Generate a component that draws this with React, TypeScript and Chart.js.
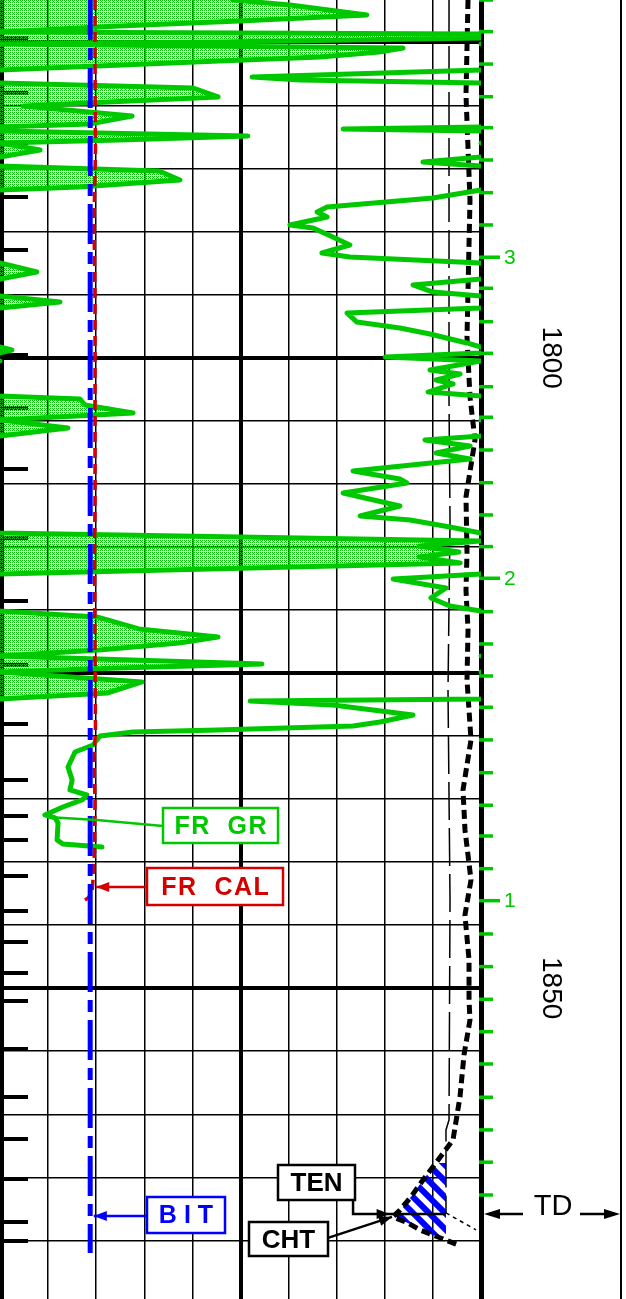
import React, { useEffect, useRef } from 'react';
import { Chart, registerables } from 'chart.js';

Chart.register(...registerables);

// ---------- colours ----------
const GREEN = '#00c800';
const RED = '#d40000';
const BLUE = '#0000ff';
const BLACK = '#000000';
const FONT = '"Liberation Sans", Arial, sans-serif';

// ---------- depth window (m) and grid ----------
const DEPTH_TOP = 1771.63;
const DEPTH_BOTTOM = 1874.65;
const gridDepths = [1775, 1780, 1785, 1790, 1795, 1800, 1805, 1810, 1815, 1820, 1825, 1830, 1835, 1840, 1845, 1850, 1855, 1860, 1865, 1870];
const depthLabels = [1800, 1850];
const trackGrid = [0, 15, 30, 45, 60, 75, 90, 105, 120, 135, 150];
const tdDepth = 1867.9;

// ---------- FR GR (API), main scale 0-150, backup 150-300 ----------
const grDepth = [
  1771.63, 1772.03, 1772.82, 1773.30, 1773.69, 1774.17, 1774.33, 1774.64, 1774.96, 1775.12,
  1775.44, 1775.75, 1776.15, 1776.47, 1777.18, 1777.74, 1777.97, 1778.21, 1778.61, 1779.32,
  1779.64, 1780.04, 1780.83, 1781.46, 1781.70, 1781.86, 1782.02, 1782.42, 1782.73, 1782.97,
  1783.53, 1784.08, 1784.48, 1784.79, 1785.19, 1785.90, 1786.46, 1786.70, 1787.33, 1788.05,
  1788.44, 1788.84, 1789.47, 1789.71, 1790.43, 1791.06, 1791.69, 1792.01, 1792.49, 1793.20,
  1793.76, 1794.23, 1794.79, 1795.10, 1795.58, 1796.06, 1796.45, 1797.17, 1797.64, 1798.12,
  1798.83, 1799.15, 1799.39, 1799.62, 1799.94, 1800.26, 1800.97, 1801.29, 1801.77, 1802.08,
  1802.72, 1803.03, 1803.27, 1803.75, 1804.38, 1804.94, 1805.57, 1806.21, 1806.52, 1807.00,
  1807.55, 1808.03, 1808.98, 1809.62, 1809.93, 1810.73, 1811.76, 1812.55, 1812.87, 1813.42,
  1813.90, 1814.53, 1814.93, 1815.41, 1815.80, 1816.28, 1817.15, 1817.55, 1818.26, 1819.05,
  1819.69, 1820.08, 1820.56, 1821.51, 1822.15, 1822.62, 1823.18, 1823.65, 1824.29, 1824.60,
  1824.92, 1825.71, 1826.59, 1827.06, 1827.22, 1827.54, 1828.33, 1828.89, 1829.20, 1829.52,
  1829.68, 1830.00, 1830.71, 1831.27, 1832.46, 1833.49, 1834.28, 1834.68, 1835.07, 1835.63,
  1836.26, 1836.50, 1836.90, 1838.24, 1838.56, 1838.80,
];
const grValue = [
  222.7, 240.4, 264.4, 224.5, 187.1, 150.0, 299.7, 299.7, 218.3, 150.0,
  275.7, 268.2, 249.8, 218.3, 150.0, 78.6, 93.6, 150.0, 210.2, 218.0,
  190.5, 157.2, 191.2, 177.8, 150.0, 107.0, 150.0, 227.3, 187.1, 150.0,
  162.5, 150.0, 131.9, 150.0, 199.6, 206.1, 174.6, 150.0, 135.0, 102.0,
  98.9, 102.0, 90.4, 97.6, 103.8, 109.1, 100.4, 109.1, 150.0, 161.5,
  150.0, 128.8, 135.0, 150.0, 168.7, 150.0, 108.2, 111.3, 124.7, 134.1,
  145.6, 150.0, 153.7, 150.0, 120.1, 150.0, 134.1, 143.5, 136.0, 141.3,
  133.5, 150.0, 174.9, 176.5, 191.5, 150.0, 171.2, 150.0, 132.5, 146.6,
  136.0, 146.6, 110.1, 124.7, 126.9, 107.0, 124.7, 112.3, 127.9, 140.3,
  150.0, 299.7, 280.7, 293.1, 280.7, 293.5, 150.0, 122.6, 139.1, 134.4,
  140.3, 150.0, 180.2, 193.3, 218.0, 205.8, 180.9, 150.0, 231.7, 187.1,
  150.0, 194.3, 183.4, 150.0, 78.0, 103.8, 128.8, 118.5, 110.1, 67.7,
  41.5, 31.2, 29.0, 23.4, 21.2, 22.5, 21.8, 27.1, 25.6, 19.6,
  14.0, 17.2, 18.1, 17.8, 19.6, 31.8,
];

// ---------- FR CAL and BIT (in), scale 6-16 ----------
const calDepth = [1771.63, 1776.39, 1783.53, 1789.08, 1795.42, 1803.35, 1811.28, 1816.04, 1823.18, 1829.52, 1831.90, 1835.07, 1839.04, 1841.42, 1842.45, 1842.84, 1843.00];
const calValue = [7.975, 7.975, 7.985, 7.954, 7.975, 7.975, 7.975, 7.965, 7.975, 7.985, 7.954, 7.975, 7.965, 7.933, 7.913, 7.830, 7.767];
const bitDepth = [1771.63, 1871.0];
const bitValue = [7.875, 7.875];

// ---------- TEN and CHT (lbf), scale 0-10000 ----------
const tenDepth = [1771.63, 1803.35, 1812.87, 1826.35, 1843.00, 1860.45, 1861.24, 1867.82, 1869.17];
const tenValue = [9335, 9335, 9356, 9314, 9356, 9335, 9272, 9272, 9896];
const chtDepth = [
  1771.63, 1779.16, 1787.49, 1798.35, 1803.11, 1806.52, 1811.04, 1815.48, 1818.42, 1821.59,
  1825.56, 1830.31, 1834.28, 1837.45, 1841.41, 1844.19, 1847.76, 1850.93, 1852.52, 1855.29,
  1858.62, 1862.03, 1863.86, 1865.21, 1866.55, 1867.59, 1868.14, 1868.62, 1869.17, 1869.73,
  1870.36,
];
const chtValue = [
  9730, 9688, 9771, 9709, 9771, 9875, 9688, 9709, 9688, 9730,
  9709, 9792, 9626, 9667, 9792, 9667, 9751, 9751, 9771, 9647,
  9563, 9418, 9064, 8794, 8545, 8316, 8170, 8482, 8732, 9106,
  9522,
];
const hatchTop = 1863.8;
const hatchBottom = 1869.8;
const hatchRight = 9272;

// ---------- time marks (right edge, green) and depth marks (left edge, black) ----------
const timeMarkDepth = [
  1771.63, 1774.14, 1776.71, 1779.30, 1781.76, 1784.32, 1786.91, 1789.47, 1792.03, 1794.49,
  1797.14, 1799.65, 1802.30, 1804.72, 1807.32, 1809.91, 1812.47, 1814.98, 1817.49, 1820.14,
  1822.70, 1825.24, 1827.72, 1830.31, 1832.91, 1835.49, 1837.93, 1840.52, 1843.06, 1845.70,
  1848.29, 1850.88, 1853.45, 1856.01, 1858.65, 1861.24, 1863.80, 1866.40,
];
const timeLabelDepth = [1792.03, 1817.49, 1843.06];
const timeLabelText = ['3', '2', '1'];
const depthMarkDepth = [
  1774.64, 1779.01, 1782.97, 1787.25, 1791.46, 1799.78, 1803.99, 1808.82, 1814.29, 1819.29,
  1824.37, 1829.04, 1833.49, 1836.34, 1838.24, 1841.10, 1843.87, 1846.33, 1848.79, 1851.01,
  1854.82, 1858.62, 1861.96, 1865.13, 1868.54, 1870.04,
];

// ---------- curve labels (annotation layout) ----------
const labelBoxes = [
  { text: 'FR  GR', color: GREEN, left: 50.83, depth: 1837.09, w: 115, h: 35, font: `bold 25px ${FONT}`, spacing: 1.5 },
  { text: 'FR  CAL', color: RED, left: 45.84, depth: 1841.93, w: 136, h: 37, font: `bold 25px ${FONT}`, spacing: 1.5 },
  { text: 'BIT', color: BLUE, left: 45.84, depth: 1867.98, w: 78, h: 36, font: `bold 25px ${FONT}`, spacing: 7 },
  { text: 'TEN', color: BLACK, left: 86.69, depth: 1865.40, w: 77, h: 35, font: `bold 26px ${FONT}`, spacing: 0 },
  { text: 'CHT', color: BLACK, left: 77.65, depth: 1869.88, w: 79, h: 34, font: `bold 26px ${FONT}`, spacing: 0 },
];
// leader polylines: [axisId, value, depth]
const leaders: any[] = [
  { color: GREEN, pts: [['x', 14.7, 1836.42], ['x', 30.2, 1836.66], ['x', 50.83, 1837.13]] },
  { color: RED, pts: [['x', 45.84, 1841.97], ['xc', 8.0, 1841.97]], arrow: [['xc', 8.0, 1841.97], ['x', 45.84, 1841.97]] },
  { color: BLUE, pts: [['x', 45.84, 1868.06], ['xc', 7.95, 1868.06]], arrow: [['xc', 7.95, 1868.06], ['x', 45.84, 1868.06]] },
  { color: BLACK, pts: [['x', 110.1, 1866.79], ['x', 110.1, 1867.90], ['xt', 9272, 1867.90]], arrow: [['xt', 8100, 1867.90], ['x', 110.1, 1867.90]] },
  { color: BLACK, pts: [['x', 102.3, 1869.80], ['xt', 8150, 1868.14]], arrow: [['xt', 8150, 1868.14], ['x', 102.3, 1869.80]] },
];

function makeDotPattern(): any {
  const c = document.createElement('canvas');
  c.width = 4; c.height = 4;
  const g = c.getContext('2d')!;
  g.fillStyle = GREEN;
  [[0, 0], [2, 0], [1, 1], [0, 2], [2, 2]].forEach(([x, y]) => g.fillRect(x, y, 1, 1));
  return g.createPattern(c, 'repeat');
}

function makeHatchPattern(): any {
  const c = document.createElement('canvas');
  c.width = 16; c.height = 16;
  const g = c.getContext('2d')!;
  g.strokeStyle = BLUE;
  g.lineWidth = 6;
  g.beginPath();
  for (const k of [-16, 0, 16]) { g.moveTo(-3, k - 3); g.lineTo(19, k + 19); }
  g.stroke();
  return g.createPattern(c, 'repeat');
}

function arrowHead(ctx: any, tx: number, ty: number, fx: number, fy: number, len = 13, half = 5) {
  const a = Math.atan2(ty - fy, tx - fx);
  const c = Math.cos(a), s = Math.sin(a);
  ctx.beginPath();
  ctx.moveTo(tx, ty);
  ctx.lineTo(tx - len * c + half * s, ty - len * s - half * c);
  ctx.lineTo(tx - len * c - half * s, ty - len * s + half * c);
  ctx.closePath();
  ctx.fill();
}

const toPts = (ds: number[], vs: number[]) => ds.map((d, i) => ({ x: vs[i], y: d }));

const logPlugin: any = {
  id: 'logDecor',
  beforeDatasetsDraw(chart: any, _a: any, opts: any) {
    const ctx = chart.ctx;
    const ys = chart.scales.y, xt = chart.scales.xt;
    const area = chart.chartArea;
    ctx.save();
    // depth marks on the left edge
    ctx.fillStyle = BLACK;
    depthMarkDepth.forEach((d) => {
      const py = ys.getPixelForValue(d);
      ctx.fillRect(area.left, Math.round(py) - 2, 28, 4);
    });
    // blue hatch between CHT and TEN at the bottom
    const pts: number[][] = [];
    chtDepth.forEach((d, i) => {
      if (d >= hatchTop && d <= hatchBottom) pts.push([xt.getPixelForValue(chtValue[i]), ys.getPixelForValue(d)]);
    });
    if (pts.length) {
      const rx = xt.getPixelForValue(hatchRight);
      ctx.beginPath();
      pts.forEach(([px, py], i) => (i ? ctx.lineTo(px, py) : ctx.moveTo(px, py)));
      ctx.lineTo(rx, pts[pts.length - 1][1]);
      ctx.lineTo(rx, pts[0][1]);
      ctx.closePath();
      ctx.fillStyle = opts.hatch;
      ctx.fill();
    }
    ctx.restore();
  },
  afterDraw(chart: any) {
    const ctx = chart.ctx;
    const ys = chart.scales.y;
    const area = chart.chartArea;
    const px = (axis: string, v: number) => chart.scales[axis].getPixelForValue(v);
    ctx.save();

    // right border of depth track
    ctx.fillStyle = BLACK;
    ctx.fillRect(area.right + 139, 0, 2, chart.height);

    // green time marks
    ctx.fillStyle = GREEN;
    timeMarkDepth.forEach((d) => {
      const py = ys.getPixelForValue(d);
      const labelled = timeLabelDepth.some((t) => Math.abs(t - d) < 0.01);
      ctx.fillRect(area.right - 2, py - 1.75, labelled ? 21 : 14, 3.5);
    });
    ctx.font = `21px ${FONT}`;
    ctx.textAlign = 'left';
    ctx.textBaseline = 'middle';
    timeLabelDepth.forEach((d, i) => ctx.fillText(timeLabelText[i], area.right + 23, ys.getPixelForValue(d) + 1));

    // depth numbers, rotated
    ctx.fillStyle = BLACK;
    ctx.font = `28px ${FONT}`;
    ctx.textAlign = 'center';
    depthLabels.forEach((d) => {
      ctx.save();
      ctx.translate(area.right + 70, ys.getPixelForValue(d));
      ctx.rotate(Math.PI / 2);
      ctx.fillText(String(d), 0, 0);
      ctx.restore();
    });

    // TD marker
    const ty = ys.getPixelForValue(tdDepth);
    ctx.strokeStyle = BLACK;
    ctx.lineWidth = 2.5;
    ctx.beginPath();
    ctx.moveTo(area.right + 42, ty); ctx.lineTo(area.right + 8, ty);
    ctx.moveTo(area.right + 99, ty); ctx.lineTo(area.right + 130, ty);
    ctx.stroke();
    arrowHead(ctx, area.right + 3, ty, area.right + 40, ty, 16, 5);
    arrowHead(ctx, area.right + 139, ty, area.right + 100, ty, 16, 5);
    ctx.font = `29px ${FONT}`;
    ctx.textAlign = 'center';
    ctx.textBaseline = 'alphabetic';
    ctx.fillText('TD', area.right + 72, ty + 1);

    // leaders
    leaders.forEach((l) => {
      ctx.strokeStyle = l.color;
      ctx.fillStyle = l.color;
      ctx.lineWidth = 2.5;
      ctx.beginPath();
      l.pts.forEach((p: any, i: number) => {
        const X = px(p[0], p[1]), Y = ys.getPixelForValue(p[2]);
        i ? ctx.lineTo(X, Y) : ctx.moveTo(X, Y);
      });
      ctx.stroke();
      if (l.arrow) {
        const [t, f] = l.arrow;
        arrowHead(ctx, px(t[0], t[1]), ys.getPixelForValue(t[2]), px(f[0], f[1]), ys.getPixelForValue(f[2]), 13, 5);
      }
    });

    // label boxes
    labelBoxes.forEach((b) => {
      const x0 = Math.round(px('x', b.left));
      const yc = ys.getPixelForValue(b.depth);
      const y0 = Math.round(yc - b.h / 2);
      ctx.fillStyle = '#ffffff';
      ctx.fillRect(x0, y0, b.w, b.h);
      ctx.strokeStyle = b.color;
      ctx.lineWidth = 2.5;
      ctx.strokeRect(x0, y0, b.w, b.h);
      ctx.fillStyle = b.color;
      ctx.font = b.font;
      ctx.textAlign = 'center';
      ctx.textBaseline = 'middle';
      (ctx as any).letterSpacing = `${b.spacing}px`;
      ctx.fillText(b.text, x0 + b.w / 2 + b.spacing / 2, yc + 1.5);
      (ctx as any).letterSpacing = '0px';
    });
    ctx.restore();
  },
};

export default function App() {
  const ref = useRef<HTMLCanvasElement>(null);

  useEffect(() => {
    const canvas = ref.current;
    if (!canvas) return;
    const dots = makeDotPattern();
    const hatch = makeHatchPattern();
    const hiddenX = (min: number, max: number) => ({ type: 'linear', axis: 'x', position: 'top', min, max, display: false });

    const chart = new Chart(canvas, {
      type: 'line',
      data: {
        datasets: [
          {
            label: 'BIT', data: toPts(bitDepth, bitValue), xAxisID: 'xc', yAxisID: 'y',
            borderColor: BLUE, borderWidth: 5, borderDash: [40, 8, 12, 8], pointRadius: 0, fill: false,
          },
          {
            label: 'FR CAL', data: toPts(calDepth, calValue), xAxisID: 'xc', yAxisID: 'y',
            borderColor: RED, borderWidth: 3.5, borderDash: [10, 6], pointRadius: 0, fill: false,
          },
          {
            label: 'FR GR', data: toPts(grDepth, grValue), xAxisID: 'x', yAxisID: 'y',
            borderColor: GREEN, borderWidth: 5, borderJoinStyle: 'round', borderCapStyle: 'round',
            pointRadius: 0, fill: false,
          },
          {
            label: 'FR GR backup', data: toPts(grDepth, grValue), xAxisID: 'xb', yAxisID: 'y',
            borderColor: GREEN, borderWidth: 5, borderJoinStyle: 'round', borderCapStyle: 'round',
            pointRadius: 0, fill: { value: 150 }, backgroundColor: dots,
          },
          {
            label: 'TEN', data: toPts(tenDepth, tenValue), xAxisID: 'xt', yAxisID: 'y',
            borderColor: BLACK, borderWidth: 1.5, borderDash: [38, 8], pointRadius: 0, fill: false,
            segment: { borderDash: (c: any) => (c.p0DataIndex >= 7 ? [4, 4] : [38, 8]) },
          },
          {
            label: 'CHT', data: toPts(chtDepth, chtValue), xAxisID: 'xt', yAxisID: 'y',
            borderColor: BLACK, borderWidth: 5, borderDash: [9, 5], pointRadius: 0, fill: false,
          },
        ],
      },
      options: {
        indexAxis: 'y',
        responsive: false,
        maintainAspectRatio: false,
        devicePixelRatio: 1,
        animation: false,
        events: [],
        layout: { padding: { left: 0, right: 145, top: 0, bottom: 0 } },
        plugins: { legend: { display: false }, tooltip: { enabled: false }, logDecor: { hatch } },
        scales: {
          x: {
            type: 'linear', axis: 'x', position: 'top', min: 0, max: 150,
            ticks: { display: false }, border: { display: false },
            grid: {
              drawTicks: false, color: BLACK,
              lineWidth: (c: any) => {
                const v = c.tick ? c.tick.value : -1;
                if (v === 0) return 8;
                if (v === 150) return 5;
                if (v === 75) return 4;
                return 1.5;
              },
            },
            afterBuildTicks: (a: any) => { a.ticks = trackGrid.map((v) => ({ value: v })); },
          },
          xb: hiddenX(150, 300),
          xc: hiddenX(6, 16),
          xt: hiddenX(0, 10000),
          y: {
            type: 'linear', axis: 'y', position: 'left', reverse: true, min: DEPTH_TOP, max: DEPTH_BOTTOM,
            ticks: { display: false }, border: { display: false },
            grid: {
              drawTicks: false, color: BLACK,
              lineWidth: (c: any) => (c.tick && c.tick.value % 25 === 0 ? 4 : 1.5),
            },
            afterBuildTicks: (a: any) => { a.ticks = gridDepths.map((v) => ({ value: v })); },
          },
        },
      } as any,
      plugins: [logPlugin],
    } as any);
    return () => chart.destroy();
  }, []);

  return (
    <div style={{ position: 'fixed', left: 0, top: 0, width: 626, height: 1299, background: '#fff', overflow: 'hidden' }}>
      <canvas ref={ref} width={626} height={1299} style={{ display: 'block', width: 626, height: 1299 }} />
    </div>
  );
}
